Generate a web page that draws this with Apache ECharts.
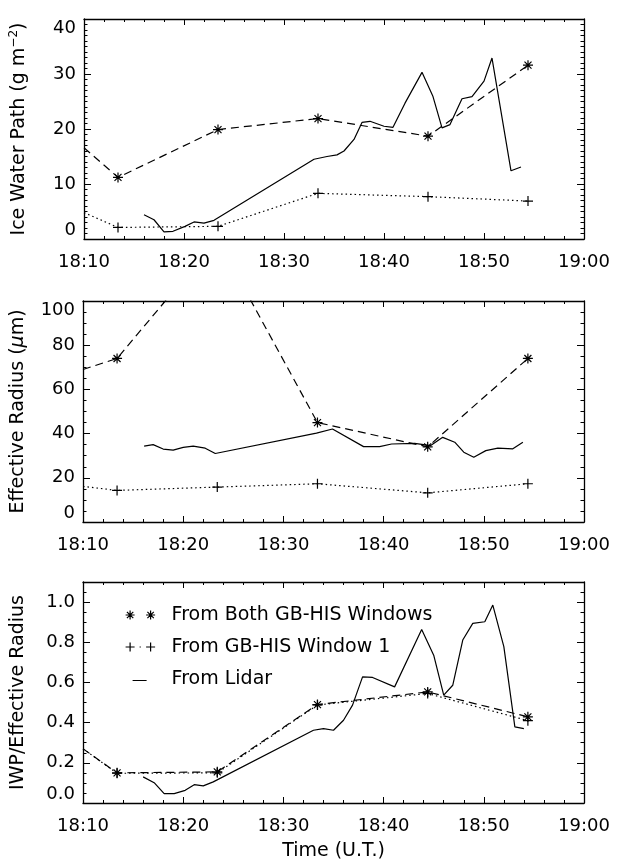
<!DOCTYPE html>
<html>
<head>
<meta charset="utf-8">
<script src="https://cdn.jsdelivr.net/npm/echarts@6/dist/echarts.min.js"></script>
<style>
  html, body { margin: 0; padding: 0; background: #fff; }
  #chart { width: 618px; height: 862px; }
</style>
</head>
<body>
<div id="chart"></div>
<script>
// minutes after 18:10
const hisTimes = [0, 3.4, 13.4, 23.4, 34.4, 44.4];

const iwpBoth = [16.6, 11.2, 19.9, 21.9, 18.7, 31.6];
const iwpWin1 = [4.8, 2.1, 2.3, 8.3, 7.7, 6.9];
const reBoth = [69, 74, 128, 45, 34, 74];
const reWin1 = [16.1, 14.3, 15.8, 17.3, 13.2, 17.3];
const ratioBoth = [0.27, 0.15, 0.155, 0.49, 0.553, 0.429];
const ratioWin1 = [0.27, 0.148, 0.15, 0.488, 0.545, 0.41];

const lidarIwpT = [6.0, 7.0, 8.0, 8.9, 10.1, 11.0, 12.0, 13.0, 23.0, 24.3, 25.3, 26.0, 27.0, 27.8, 28.6, 30.0, 30.9, 32.1, 33.8, 34.9, 35.8, 36.6, 37.8, 38.8, 40.0, 40.8, 42.7, 43.7];
const lidarIwp = [4.4, 3.5, 1.3, 1.4, 2.3, 3.1, 2.9, 3.4, 14.5, 15.0, 15.3, 16.0, 18.1, 21.2, 21.4, 20.5, 20.3, 24.7, 30.3, 25.9, 20.2, 20.8, 25.5, 25.9, 28.7, 32.9, 12.4, 13.1];

const lidarReT = [6.1, 7.0, 8.0, 9.0, 10.0, 11.0, 12.2, 13.2, 23.3, 24.9, 28.0, 29.6, 30.8, 33.1, 34.7, 35.9, 37.1, 38.0, 39.0, 40.2, 41.4, 42.9, 43.9];
const lidarRe = [34.3, 35.0, 33.0, 32.5, 33.8, 34.3, 33.4, 31.0, 40.2, 42.1, 34.1, 34.1, 35.3, 35.6, 34.6, 38.3, 36.1, 31.6, 29.3, 32.3, 33.4, 33.1, 36.1];

const lidarRatioT = [6.0, 7.1, 8.1, 9.1, 10.2, 11.1, 12.0, 13.0, 23.0, 24.0, 25.0, 26.0, 26.9, 27.9, 28.9, 31.1, 33.8, 35.0, 36.0, 36.9, 37.9, 38.9, 40.1, 40.9, 42.0, 43.1, 44.0];
const lidarRatio = [0.13, 0.101, 0.047, 0.047, 0.063, 0.091, 0.085, 0.105, 0.362, 0.37, 0.362, 0.412, 0.487, 0.628, 0.625, 0.578, 0.864, 0.736, 0.537, 0.586, 0.811, 0.894, 0.902, 0.985, 0.778, 0.379, 0.37];

const FONT = 'DejaVu Sans';
const STAR = 'path://M0,-10L0,10M-10,0L10,0M-7,-7L7,7M-7,7L7,-7';
const PLUS = 'path://M0,-10L0,10M-10,0L10,0';

const chart = echarts.init(document.getElementById('chart'), null, { renderer: 'canvas' });

const timeLabel = v => (v === 50 ? '19:00' : '18:' + (10 + v));

const grids = [
  { left: 83, top: 19, width: 501, height: 220 },
  { left: 83, top: 301, width: 501, height: 221 },
  { left: 83, top: 582, width: 501, height: 221 }
];

const black = { color: '#000', width: 1.3 };
const tickStyle = { color: '#000', width: 1 };

const xAxes = [];
const yAxes = [];
const yRanges = [
  { max: 40, interval: 10, minor: 10, fmt: v => String(v) },
  { max: 100, interval: 20, minor: 4, fmt: v => String(v) },
  { max: 1.1, interval: 0.2, minor: 4, fmt: v => v.toFixed(1) }
];
const yNames = [
  '{a|Ice Water Path (g m}{s|−2}{a|)}',
  '{a|Effective Radius (}{i|μ}{a|m)}',
  '{a|IWP/Effective Radius}'
];

grids.forEach((g, i) => {
  ['bottom', 'top'].forEach(pos => {
    xAxes.push({
      gridIndex: i, type: 'value', min: 0, max: 50, interval: 10, position: pos,
      axisLine: { show: true, onZero: false, lineStyle: black },
      axisTick: { show: true, inside: true, length: 6, lineStyle: tickStyle },
      minorTick: { show: true, splitNumber: 5, length: 3, lineStyle: tickStyle },
      splitLine: { show: false },
      axisLabel: {
        show: pos === 'bottom', margin: 14, fontSize: 18, fontFamily: FONT, color: '#000',
        formatter: timeLabel
      },
      name: (i === 2 && pos === 'bottom') ? 'Time (U.T.)' : '',
      nameLocation: 'middle', nameGap: 39,
      nameTextStyle: { fontSize: 19, fontFamily: FONT, color: '#000' }
    });
  });
  const r = yRanges[i];
  ['left', 'right'].forEach(pos => {
    yAxes.push({
      gridIndex: i, type: 'value', min: 0, max: r.max, interval: r.interval, position: pos,
      axisLine: { show: true, onZero: false, lineStyle: black },
      axisTick: { show: true, inside: true, length: 7, lineStyle: tickStyle },
      minorTick: { show: true, splitNumber: r.minor, length: 3.5, lineStyle: tickStyle },
      splitLine: { show: false },
      axisLabel: {
        show: pos === 'left', margin: 8, fontSize: 18, fontFamily: FONT, color: '#000',
        formatter: r.fmt, showMaxLabel: i !== 2,
        verticalAlignMinLabel: 'bottom', verticalAlignMaxLabel: 'top'
      },
      name: pos === 'left' ? yNames[i] : '',
      nameLocation: 'middle', nameGap: 54,
      nameTextStyle: {
        fontSize: 19, fontFamily: FONT, color: '#000',
        rich: {
          a: { fontSize: 19, fontFamily: FONT, color: '#000', lineHeight: 22 },
          s: { fontSize: 12, fontFamily: FONT, color: '#000', verticalAlign: 'top', lineHeight: 22 },
          i: { fontSize: 19, fontFamily: FONT, fontStyle: 'italic', color: '#000', lineHeight: 22 }
        }
      }
    });
  });
});

const his = (vals, firstHidden) => hisTimes.map((t, k) =>
  k === 0 && firstHidden ? { value: [t, vals[k]], symbol: 'none' } : [t, vals[k]]);
const pairs = (ts, vs) => ts.map((t, k) => [t, vs[k]]);

const markerStyle = { color: '#000', borderColor: '#000', borderWidth: 1.2 };

const series = [];
const panels = [
  [iwpBoth, iwpWin1, pairs(lidarIwpT, lidarIwp)],
  [reBoth, reWin1, pairs(lidarReT, lidarRe)],
  [ratioBoth, ratioWin1, pairs(lidarRatioT, lidarRatio)]
];
panels.forEach((p, i) => {
  series.push({
    name: 'From Both GB-HIS Windows', type: 'line', xAxisIndex: 2 * i, yAxisIndex: 2 * i,
    data: his(p[0], true), symbol: STAR, symbolSize: 10, symbolKeepAspect: true,
    itemStyle: markerStyle, lineStyle: { color: '#000', width: 1.2, type: [8, 5] }
  });
  series.push({
    name: 'From GB-HIS Window 1', type: 'line', xAxisIndex: 2 * i, yAxisIndex: 2 * i,
    data: his(p[1], true), symbol: PLUS, symbolSize: 10, symbolKeepAspect: true,
    itemStyle: markerStyle, lineStyle: { color: '#000', width: 1.2, type: [1.5, 3] }
  });
  series.push({
    name: 'From Lidar', type: 'line', xAxisIndex: 2 * i, yAxisIndex: 2 * i,
    data: p[2], symbol: 'none',
    lineStyle: { color: '#000', width: 1.2, type: 'solid' }
  });
});

// legend icons: bbox 0..41 x 0..10 so text starts after the icon like the original
const pad = 'M0,0L0.01,0M41,10L40.99,10';
const star = cx => `M${cx},0.5L${cx},9.5M${cx - 4.5},5L${cx + 4.5},5M${cx - 3.2},1.8L${cx + 3.2},8.2M${cx - 3.2},8.2L${cx + 3.2},1.8`;
const plus = cx => `M${cx - 4.5},5L${cx + 4.5},5M${cx},0.5L${cx},9.5`;

const option = {
  animation: false,
  backgroundColor: '#fff',
  grid: grids,
  xAxis: xAxes,
  yAxis: yAxes,
  legend: {
    orient: 'vertical', left: 120, top: 600, itemGap: 12,
    itemWidth: 41, itemHeight: 10, selectedMode: false,
    itemStyle: { color: '#000', borderColor: '#000', borderWidth: 1.2 },
    textStyle: { fontSize: 19, fontFamily: FONT, color: '#000', lineHeight: 20 },
    data: [
      { name: 'From Both GB-HIS Windows', icon: 'path://' + pad + star(4.5) + star(25) },
      { name: 'From GB-HIS Window 1', icon: 'path://' + pad + plus(4.5) + 'M14,5L15.2,5' + plus(25) },
      { name: 'From Lidar', icon: 'path://' + pad + 'M7,6.5L21,6.5' }
    ]
  },
  series: series
};

chart.setOption(option);
</script>
</body>
</html>
